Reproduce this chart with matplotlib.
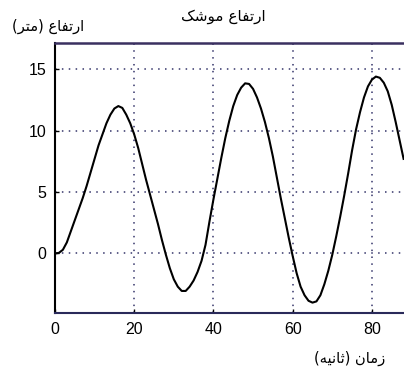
import matplotlib
matplotlib.use("Agg")
import matplotlib.pyplot as plt

# rocket altitude sampled once a second
seconds = list(range(89))
altitude = [
    0.0, 0.05, 0.3, 0.9, 1.8, 2.7, 3.6, 4.5, 5.5, 6.6,
    7.7, 8.8, 9.7, 10.6, 11.3, 11.8, 12.0, 11.85, 11.3, 10.6,
    9.7, 8.6, 7.3, 6.0, 4.8, 3.6, 2.4, 1.1, -0.1, -1.2,
    -2.1, -2.7, -3.05, -3.05, -2.7, -2.2, -1.5, -0.6, 0.7, 2.6,
    4.4, 6.1, 7.8, 9.4, 10.8, 12.0, 12.9, 13.5, 13.85, 13.8,
    13.4, 12.7, 11.8, 10.7, 9.4, 7.9, 6.2, 4.5, 2.9, 1.3,
    -0.2, -1.6, -2.7, -3.4, -3.85, -4.0, -3.9, -3.4, -2.5, -1.4,
    -0.1, 1.4, 3.0, 4.7, 6.5, 8.4, 10.1, 11.5, 12.7, 13.6,
    14.15, 14.4, 14.3, 13.9, 13.2, 12.1, 10.7, 9.2, 7.7,
]
xticks = [0, 20, 40, 60, 80]
yticks = [0, 5, 10, 15]

title_txt = "ارتفاع موشک"
ylabel_txt = "ارتفاع (متر)"
xlabel_txt = "زمان (ثانیه)"

# contextual forms: isolated, final, initial, medial (None = does not join forward)
FORMS = {
    "ا": ("\uFE8D", "\uFE8E", None, None),
    "ر": ("\uFEAD", "\uFEAE", None, None),
    "ز": ("\uFEAF", "\uFEB0", None, None),
    "و": ("\uFEED", "\uFEEE", None, None),
    "ت": ("\uFE95", "\uFE96", "\uFE97", "\uFE98"),
    "ث": ("\uFE99", "\uFE9A", "\uFE9B", "\uFE9C"),
    "ف": ("\uFED1", "\uFED2", "\uFED3", "\uFED4"),
    "ع": ("\uFEC9", "\uFECA", "\uFECB", "\uFECC"),
    "م": ("\uFEE1", "\uFEE2", "\uFEE3", "\uFEE4"),
    "ش": ("\uFEB5", "\uFEB6", "\uFEB7", "\uFEB8"),
    "ن": ("\uFEE5", "\uFEE6", "\uFEE7", "\uFEE8"),
    "ه": ("\uFEE9", "\uFEEA", "\uFEEB", "\uFEEC"),
    "ک": ("\uFB8E", "\uFB8F", "\uFB90", "\uFB91"),
    "ی": ("\uFBFC", "\uFBFD", "\uFBFE", "\uFBFF"),
}


def shape(text):
    """Join letters and put them in left-to-right display order."""
    out = []
    for i, c in enumerate(text):
        if c not in FORMS:
            out.append(c)
            continue
        prev = text[i - 1] if i > 0 else ""
        nxt = text[i + 1] if i + 1 < len(text) else ""
        after = prev in FORMS and FORMS[prev][2] is not None
        before = nxt in FORMS and FORMS[c][2] is not None
        iso, fin, ini, med = FORMS[c]
        if after and before:
            out.append(med)
        elif after:
            out.append(fin)
        elif before:
            out.append(ini)
        else:
            out.append(iso)
    s = "".join(reversed(out))
    return s.translate(str.maketrans("()", ")("))


fig = plt.figure(figsize=(4.04, 3.71), dpi=100)
ax = fig.add_axes([0.136, 0.1555, 0.864, 0.7275])

ax.plot(seconds, altitude, color="black", lw=1.5)

ax.set_xlim(0, 88.1)
ax.set_ylim(-4.87, 17.1)
ax.set_xticks(xticks)
ax.set_yticks(yticks)
ax.grid(True, color="#34346a", linestyle=(0, (1, 3.5)), lw=1.1)
ax.tick_params(direction="in", length=3, width=1, labelsize=11.5, pad=6)
for lab in ax.get_xticklabels() + ax.get_yticklabels():
    lab.set_family(["Liberation Sans", "DejaVu Sans"])

ax.spines["right"].set_visible(False)
ax.spines["left"].set_linewidth(1.5)
ax.spines["bottom"].set_linewidth(1.5)
ax.spines["bottom"].set_color("#2a2a5a")
ax.spines["top"].set_linewidth(1.8)
ax.spines["top"].set_color("#3a3060")

fig.text(0.552, 0.955, shape(title_txt), ha="center", va="center",
         fontsize=11, family="DejaVu Sans")
fig.text(0.12, 0.928, shape(ylabel_txt), ha="center", va="center",
         fontsize=10.5, family="DejaVu Sans")
fig.text(0.866, 0.035, shape(xlabel_txt), ha="center", va="center",
         fontsize=10.5, family="DejaVu Sans")

fig.savefig("out.png", dpi=100)
